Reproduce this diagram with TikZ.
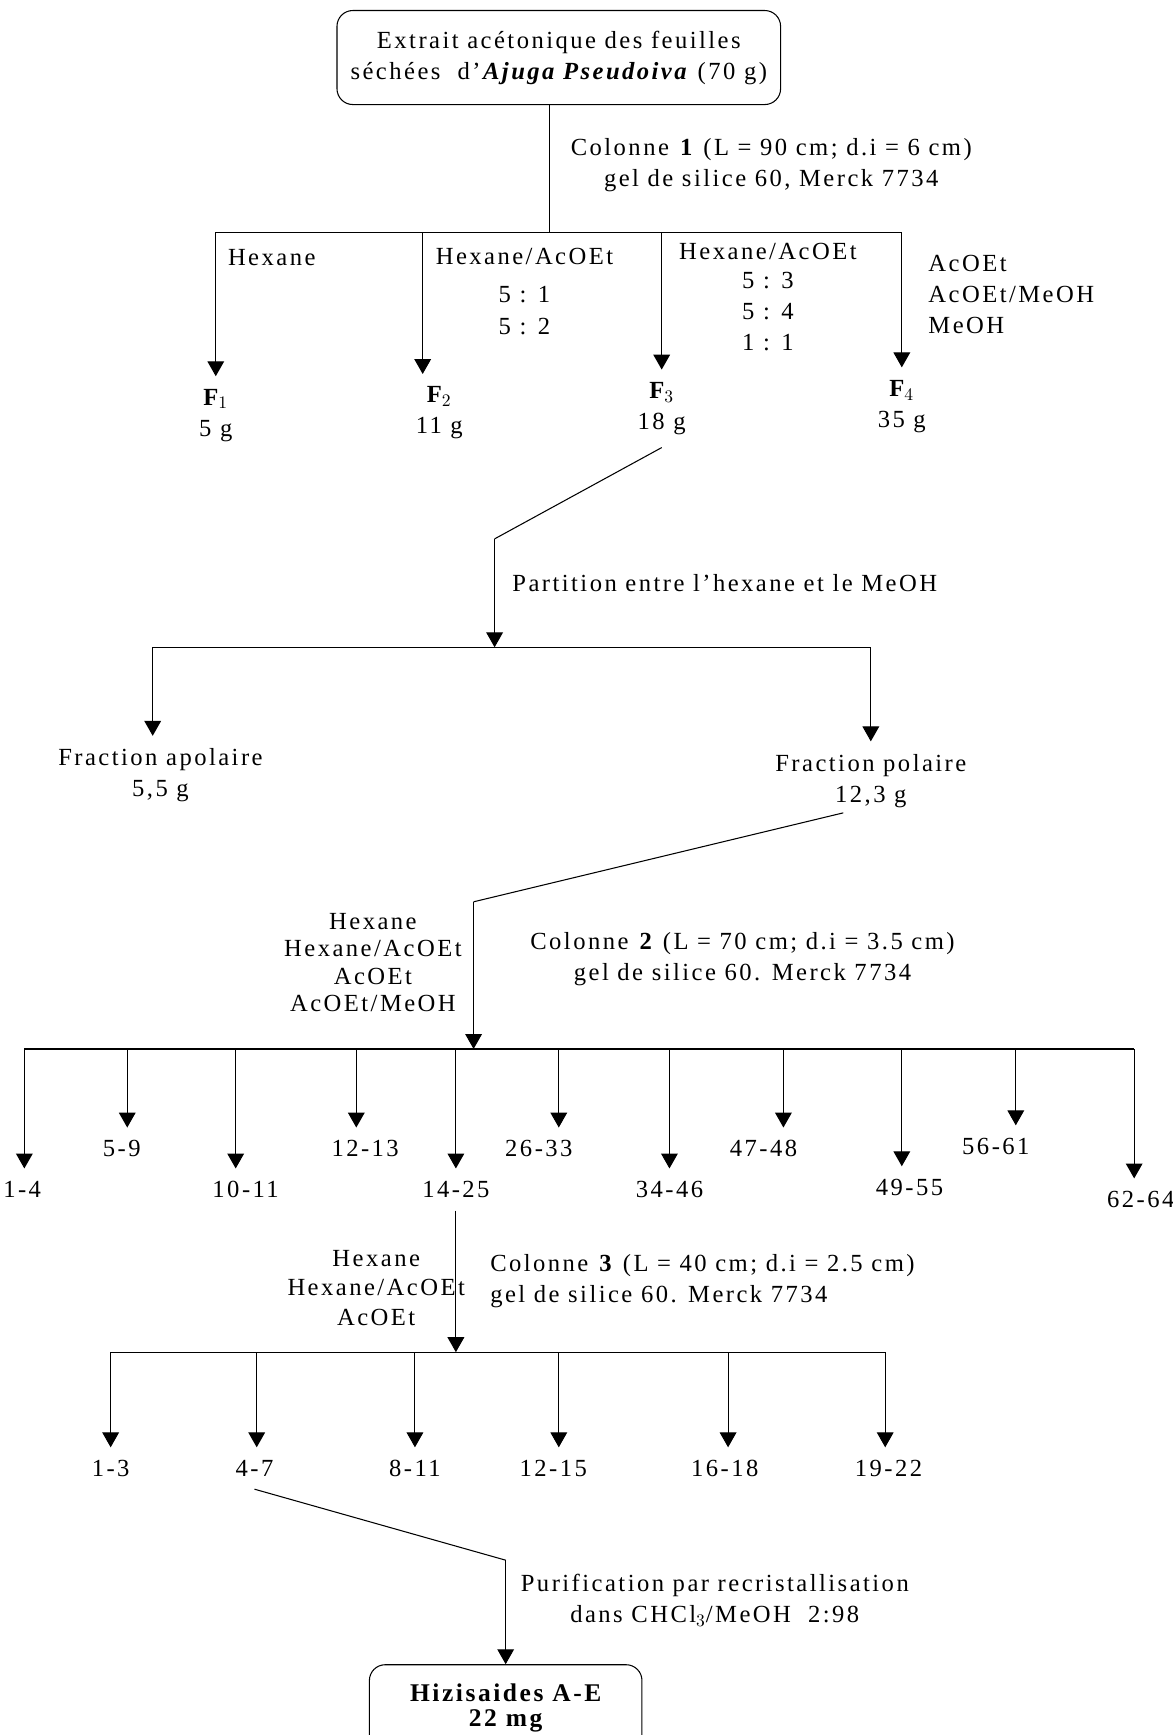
\documentclass[tikz,border=0pt]{standalone}
\usepackage{fontspec}
\setmainfont{Liberation Serif}[LetterSpace=10]
\usetikzlibrary{arrows.meta}

\begin{document}
\begin{tikzpicture}[x=0.02213cm, y=-0.02213cm,
	line width=0.6pt,
	fleche/.style={-{Triangle[length=8.5pt,width=9.5pt]}},
	cadre/.style={draw, rounded corners=9pt, align=center},
	txt/.style={font=\fontsize{14}{17.6}\selectfont, align=center, inner sep=1pt},
	frac/.style={txt, anchor=north, inner xsep=2pt, inner ysep=7pt}]
	
	\useasboundingbox (0,0) rectangle (1060,1568);
	
	% extrait de depart
	\node[cadre, txt, minimum width=8.87cm, minimum height=1.88cm] (extrait) at (505,52)
		{Extrait acétonique des feuilles\\séchées \ d'\textbf{\textit{Ajuga Pseudoiva}} (70 g)};
	\coordinate (b1) at (497,210);
	\draw (extrait.south -| b1) -- (b1);
	\node[txt] (col1) at (697,149) {Colonne \textbf{1} (L = 90 cm; d.i = 6 cm)\\gel de silice 60, Merck 7734};
	
	\draw (195,210) coordinate (a1) -- (815,210) coordinate (a4);
	\coordinate (a2) at (382,210);
	\coordinate (a3) at (598,210);
	
	\node[frac] (f1) at (195,340) {\textbf{F$_1$}\\5 g};
	\node[frac] (f2) at (397,338) {\textbf{F$_2$}\\11 g};
	\node[frac] (f3) at (598,334) {\textbf{F$_3$}\\18 g};
	\node[frac] (f4) at (815,332) {\textbf{F$_4$}\\35 g};
	
	\draw[fleche] (a1) -- (a1 |- f1.north);
	\draw[fleche] (a2) -- (a2 |- f2.north);
	\draw[fleche] (a3) -- (a3 |- f3.north);
	\draw[fleche] (a4) -- (a4 |- f4.north);
	
	\node[txt, anchor=west] (s1) at (204,233) {Hexane};
	\node[txt, anchor=north] (s2) at (474,222) {Hexane/AcOEt\\[4pt]5 : 1\\[1pt]5 : 2};
	\node[txt, anchor=north] (s3) at (694,218) {Hexane/AcOEt\\[-1pt]5 : 3\\5 : 4\\1 : 1};
	\node[txt, anchor=north west, align=left] (s4) at (837,229) {AcOEt\\AcOEt/MeOH\\MeOH};
	
	% partition
	\coordinate (p1) at (447,487);
	\coordinate (b2) at (447,585);
	\draw (f3.south) -- (p1);
	\draw[fleche] (p1) -- (b2);
	\node[txt, anchor=west] (part) at (461,527) {Partition entre l'hexane et le MeOH};
	
	\draw (138,585) coordinate (c1) -- (787,585) coordinate (c2);
	\node[frac] (apol) at (145,665) {Fraction apolaire\\5,5 g};
	\node[frac] (pol) at (787,670) {Fraction polaire\\12,3 g};
	\draw[fleche] (c1) -- (c1 |- apol.north);
	\draw[fleche] (c2) -- (c2 |- pol.north);
	
	% colonne 2
	\coordinate (p2) at (428,815);
	\coordinate (b3) at (428,948);
	\draw ([xshift=-0.55cm, yshift=0.15cm]pol.south) -- (p2);
	\draw[fleche] (p2) -- (b3);
	\node[txt] (e2) at (337,870) {Hexane\\[-2pt]Hexane/AcOEt\\[-2pt]AcOEt\\[-2pt]AcOEt/MeOH};
	\node[txt] (col2) at (671,867) {Colonne \textbf{2} (L = 70 cm; d.i = 3.5 cm)\\gel de silice 60. Merck 7734};
	
	\draw (22,948) coordinate (d1) -- (1025,948) coordinate (d11);
	\coordinate (d2) at (115,948);
	\coordinate (d3) at (213,948);
	\coordinate (d4) at (322,948);
	\coordinate (d5) at (412,948);
	\coordinate (d6) at (505,948);
	\coordinate (d7) at (605,948);
	\coordinate (d8) at (708,948);
	\coordinate (d9) at (815,948);
	\coordinate (d10) at (918,948);
	
	\node[frac] (g1) at (20,1056) {1-4};
	\node[frac] (g2) at (110,1019) {5-9};
	\node[frac] (g3) at (222,1056) {10-11};
	\node[frac] (g4) at (330,1019) {12-13};
	\node[frac] (g5) at (412,1056) {14-25};
	\node[frac] (g6) at (487,1019) {26-33};
	\node[frac] (g7) at (605,1056) {34-46};
	\node[frac] (g8) at (690,1019) {47-48};
	\node[frac] (g9) at (822,1054) {49-55};
	\node[frac] (g10) at (900,1017) {56-61};
	\node[frac] (g11) at (1031,1065) {62-64};
	
	\draw[fleche] (d1) -- (d1 |- g1.north);
	\draw[fleche] (d2) -- (d2 |- g2.north);
	\draw[fleche] (d3) -- (d3 |- g3.north);
	\draw[fleche] (d4) -- (d4 |- g4.north);
	\draw[fleche] (d5) -- (d5 |- g5.north);
	\draw[fleche] (d6) -- (d6 |- g6.north);
	\draw[fleche] (d7) -- (d7 |- g7.north);
	\draw[fleche] (d8) -- (d8 |- g8.north);
	\draw[fleche] (d9) -- (d9 |- g9.north);
	\draw[fleche] (d10) -- (d10 |- g10.north);
	\draw[fleche] (d11) -- (d11 |- g11.north);
	
	% colonne 3
	\coordinate (b4) at (412,1222);
	\draw[fleche] (g5.south) -- (b4);
	\node[txt] (e3) at (340,1164) {Hexane\\[-1pt]Hexane/AcOEt\\[-1pt]AcOEt};
	\node[txt, anchor=west, align=left] (col3) at (441,1158) {Colonne \textbf{3} (L = 40 cm; d.i = 2.5 cm)\\gel de silice 60. Merck 7734};
	
	\draw (100,1222) coordinate (h1) -- (800,1222) coordinate (h6);
	\coordinate (h2) at (232,1222);
	\coordinate (h3) at (375,1222);
	\coordinate (h4) at (505,1222);
	\coordinate (h5) at (658,1222);
	
	\node[frac] (k1) at (100,1308) {1-3};
	\node[frac] (k2) at (230,1308) {4-7};
	\node[frac] (k3) at (375,1308) {8-11};
	\node[frac] (k4) at (500,1308) {12-15};
	\node[frac] (k5) at (655,1308) {16-18};
	\node[frac] (k6) at (803,1308) {19-22};
	
	\draw[fleche] (h1) -- (h1 |- k1.north);
	\draw[fleche] (h2) -- (h2 |- k2.north);
	\draw[fleche] (h3) -- (h3 |- k3.north);
	\draw[fleche] (h4) -- (h4 |- k4.north);
	\draw[fleche] (h5) -- (h5 |- k5.north);
	\draw[fleche] (h6) -- (h6 |- k6.north);
	
	% purification
	\node[cadre, txt, font=\fontsize{14.5}{14.5}\selectfont\bfseries, minimum width=5.45cm, minimum height=1.73cm, anchor=north] (hiz) at (457,1504)
		{Hizisaides A-E\\22 mg};
	\coordinate (p3) at (457,1410);
	\draw (k2.south) -- (p3);
	\draw[fleche] (p3) -- (hiz.north);
	\node[txt] (purif) at (646,1446) {Purification par recristallisation\\dans CHCl$_3$/MeOH \ 2:98};
	
\end{tikzpicture}
\end{document}
